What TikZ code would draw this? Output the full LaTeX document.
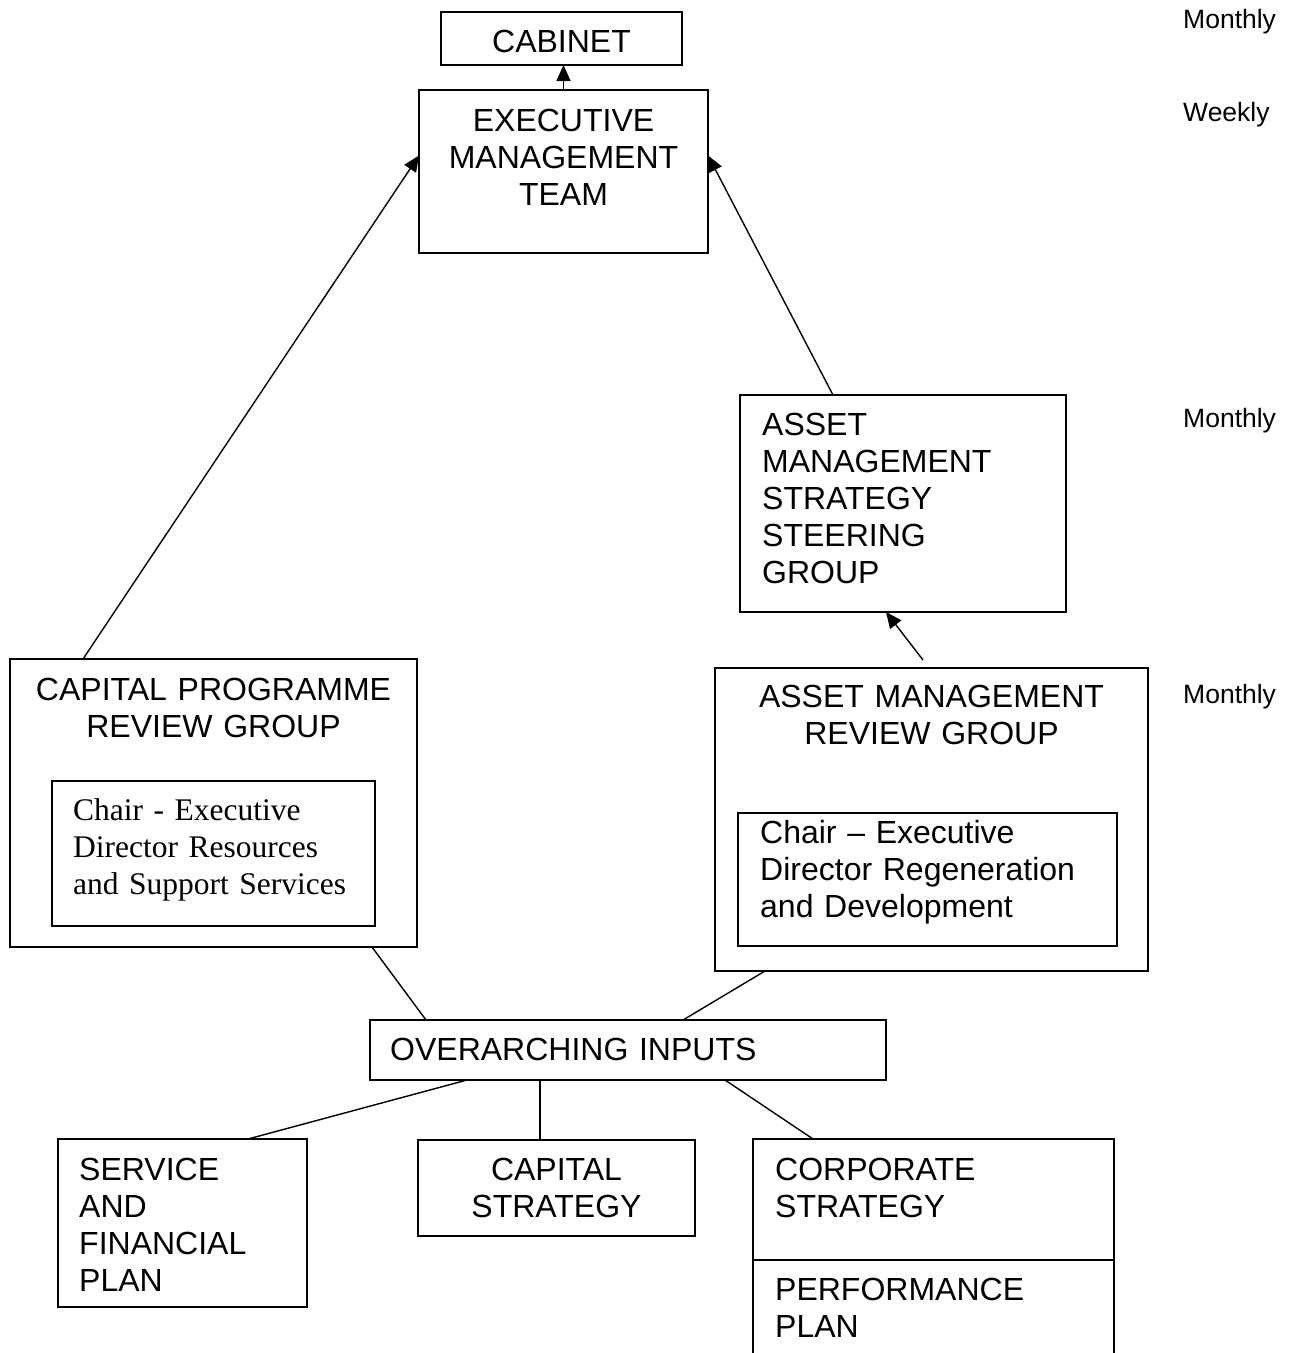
\documentclass[tikz,border=0pt]{standalone}
\usepackage{fontspec}
\setmainfont{Liberation Sans}
\newfontfamily\chairserif{Liberation Serif}
\usetikzlibrary{arrows.meta,calc}

\begin{document}
\begin{tikzpicture}[x=1pt,y=-1pt,>={Triangle[length=16pt,width=14pt]},font=\fontsize{32}{37}\selectfont,
    box/.style={draw,line width=1.8pt,inner sep=0pt,outer sep=0pt,anchor=north west},
    ltxt/.style={inner sep=0pt,align=left,anchor=base west},
    ctxt/.style={inner sep=0pt,align=center,anchor=base},
    freq/.style={inner sep=0pt,anchor=base west,font=\fontsize{26.5}{30}\selectfont},
    link/.style={line width=1.4pt}]
    \useasboundingbox (0,0) rectangle (1292,1353);
    \node[box,minimum width=241pt,minimum height=53pt] (cab) at (441,12) {};
    \node[ctxt,text width=220pt] (cabtxt) at ($(cab.north)+(0,40)$) {CABINET};
    \node[box,minimum width=289pt,minimum height=163pt] (emt) at (419,90) {};
    \node[ctxt,text width=270pt] (emttxt) at ($(emt.north)+(0,41)$) {EXECUTIVE\\MANAGEMENT\\TEAM};
    \node[box,minimum width=326pt,minimum height=217pt] (assg) at (740,395) {};
    \node[ltxt,text width=290pt] (assgtxt) at ($(assg.north west)+(22,40)$) {ASSET\\MANAGEMENT\\STRATEGY\\STEERING\\GROUP};
    \node[box,minimum width=433pt,minimum height=303pt] (amrg) at (715,668) {};
    \node[ctxt,text width=410pt] (amrgtxt) at ($(amrg.north)+(0,39)$) {ASSET MANAGEMENT\\REVIEW GROUP};
    \node[box,minimum width=379pt,minimum height=133pt] (amrgchair) at ($(amrg.north west)+(23,145)$) {};
    \node[ltxt,text width=350pt] (amrgchairtxt) at ($(amrgchair.north west)+(22,30)$) {Chair – Executive\\Director Regeneration\\and Development};
    \node[box,minimum width=407pt,minimum height=288pt] (cprg) at (10,659) {};
    \node[ctxt,text width=390pt] (cprgtxt) at ($(cprg.north)+(0,41)$) {CAPITAL PROGRAMME\\REVIEW GROUP};
    \node[box,minimum width=323pt,minimum height=145pt] (cprgchair) at ($(cprg.north west)+(42,122)$) {};
    \node[ltxt,text width=295pt,font=\chairserif\fontsize{31.5}{37}\selectfont] (cprgchairtxt) at ($(cprgchair.north west)+(21,39)$) {Chair - Executive\\Director Resources\\and Support Services};
    \node[box,minimum width=516pt,minimum height=60pt] (oi) at (370,1020) {};
    \node[ltxt,text width=480pt] (oitxt) at ($(oi.north west)+(20,40)$) {OVERARCHING INPUTS};
    \node[box,minimum width=249pt,minimum height=168pt] (sfp) at (58,1139) {};
    \node[ltxt,text width=220pt] (sfptxt) at ($(sfp.north west)+(21,41)$) {SERVICE\\AND\\FINANCIAL\\PLAN};
    \node[box,minimum width=277pt,minimum height=96pt] (cs) at (418,1140) {};
    \node[ctxt,text width=260pt] (cstxt) at ($(cs.north)+(0,40)$) {CAPITAL\\STRATEGY};
    \node[box,minimum width=361pt,minimum height=121pt] (corp) at (753,1139) {};
    \node[ltxt,text width=330pt] (corptxt) at ($(corp.north west)+(22,41)$) {CORPORATE\\STRATEGY};
    \draw[line width=1.8pt] (corp.south west) -- ++(0,93);
    \draw[line width=1.8pt] (corp.south east) -- ++(0,93);
    \node[ltxt,text width=330pt] (perftxt) at ($(corp.south west)+(22,40)$) {PERFORMANCE\\PLAN};
    \node[freq] (fcab) at (1183,28) {Monthly};
    \node[freq] (femt) at (1183,121) {Weekly};
    \node[freq] (fassg) at (1183,427) {Monthly};
    \node[freq] (famrg) at (1183,703) {Monthly};
    \draw[->,link] (emt.north) -- (emt.north |- cab.south);
    \draw[->,link] ($(cprg.north west)+(73,0)$) -- ($(emt.west)+(0,-16)$);
    \draw[->,link] ($(assg.north west)+(93,0)$) -- ($(emt.east)+(0,-16)$);
    \draw[->,link] ($(amrg.north west)+(208,-8)$) -- ($(assg.south west)+(146,0)$);
    \draw[link] ($(cprg.south east)+(-45,0)$) -- ($(oi.north west)+(56,0)$);
    \draw[link] ($(amrg.south west)+(50,0)$) -- ($(oi.north west)+(313,0)$);
    \draw[link] ($(oi.south west)+(97,0)$) -- ($(sfp.north west)+(190,0)$);
    \draw[link] ($(oi.south west)+(170,0)$) -- ($(cs.north west)+(122,0)$);
    \draw[link] ($(oi.south west)+(355,0)$) -- ($(corp.north west)+(60,0)$);
\end{tikzpicture}
\end{document}
